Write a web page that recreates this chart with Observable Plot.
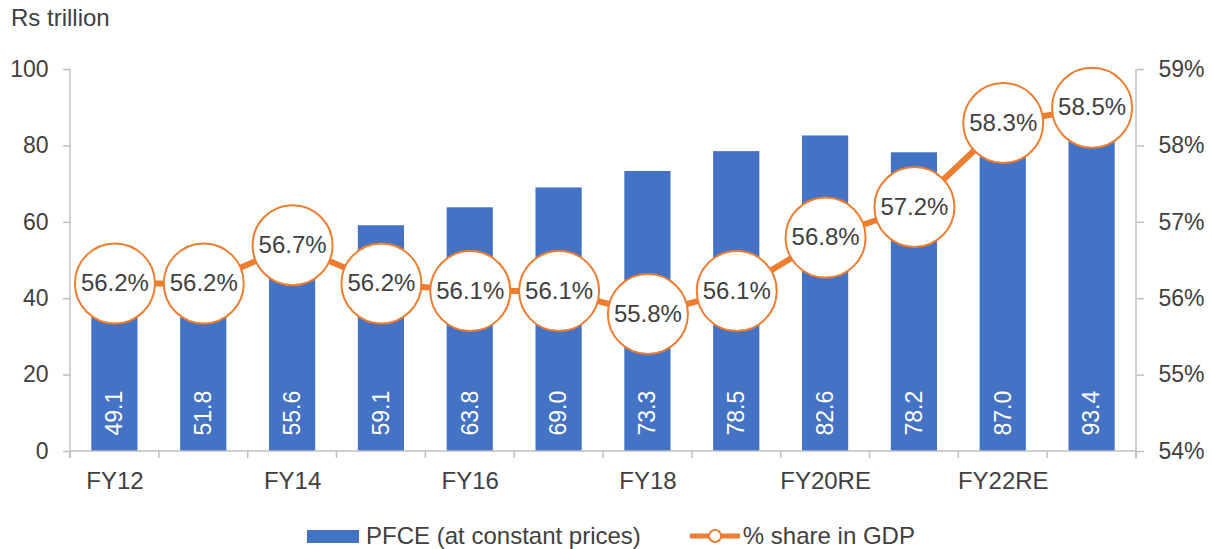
<!DOCTYPE html>
<html><head><meta charset="utf-8">
<script src="https://cdn.jsdelivr.net/npm/d3@7"></script>
<script src="https://cdn.jsdelivr.net/npm/@observablehq/plot@0.6"></script>
<style>
body{margin:0;background:#fff;font-family:"Liberation Sans",Arial,sans-serif;color:#404040;}
#title{height:40px;box-sizing:border-box;padding:6px 0 0 11px;font-size:24px;line-height:24px;}
#legend{height:49px;box-sizing:border-box;padding-top:23px;padding-left:10px;display:flex;justify-content:center;align-items:center;font-size:24px;line-height:24px;}
</style></head>
<body>
<div id="title"></div>
<div id="chart"></div>
<div id="legend"></div>
<script>
const unitLabel = "Rs trillion";
const years = ["FY12","FY13","FY14","FY15","FY16","FY17","FY18","FY19","FY20RE","FY21RE","FY22RE","FY23AE"];
const pfce = [49.1,51.8,55.6,59.1,63.8,69.0,73.3,78.5,82.6,78.2,87.0,93.4];
const share = [56.2,56.2,56.7,56.2,56.1,56.1,55.8,56.1,56.8,57.2,58.3,58.5];
const xTickLabels = ["FY12","FY14","FY16","FY18","FY20RE","FY22RE"];
const leftTicks = [0,20,40,60,80,100];
const rightTicks = [54,55,56,57,58,59];
const seriesNames = ["PFCE (at constant prices)","% share in GDP"];

const BLUE = "#4472C4", ORANGE = "#ED7D31", GRID = "#bfbfbf", TEXT = "#404040";
const FONT = "'Liberation Sans', Arial, sans-serif";

// map right-axis percent onto left-axis domain
const rMin = rightTicks[0], rMax = rightTicks[rightTicks.length-1];
const toLeft = p => (p - rMin) / (rMax - rMin) * 100;
const fromLeft = v => rMin + v / 100 * (rMax - rMin);

const data = years.map((year, i) => ({year, v: pfce[i], p: share[i], s: toLeft(share[i])}));

document.getElementById("title").textContent = unitLabel;

function frameLines(index, scales) {
  const {x, y} = scales;
  const step = x.step();
  const [r0, r1] = x.range();
  const y0 = y(0), yTop = y(100);
  const g = d3.create("svg:g").attr("stroke", GRID).attr("stroke-width", 1.5).attr("fill", "none");
  g.append("line").attr("x1", r0).attr("x2", r0).attr("y1", yTop).attr("y2", y0 + 7);
  g.append("line").attr("x1", r1).attr("x2", r1).attr("y1", yTop).attr("y2", y0 + 7);
  g.append("line").attr("x1", r0).attr("x2", r1).attr("y1", y0).attr("y2", y0);
  for (let i = 0; i <= years.length; i++) {
    const xx = r0 + i * step;
    g.append("line").attr("x1", xx).attr("x2", xx).attr("y1", y0).attr("y2", y0 + 7);
  }
  return g.node();
}

const chart = Plot.plot({
  width: 1212,
  height: 460,
  marginLeft: 70,
  marginRight: 76,
  marginTop: 29,
  marginBottom: 49,
  style: {fontFamily: FONT, fontSize: "23px", color: TEXT, background: "white", overflow: "visible"},
  x: {domain: years, paddingInner: 0.48, paddingOuter: 0.24, round: false, label: null},
  y: {domain: [0, 100], label: null},
  marks: [
    Plot.barY(data, {x: "year", y: "v", fill: BLUE}),
    Plot.text(data, {x: "year", y: 0, text: d => d.v.toFixed(1), rotate: -90, textAnchor: "start", dy: -16, fill: "white", fontSize: 23}),
    frameLines,
    Plot.axisY({ticks: leftTicks, tickSize: 7, tickPadding: 15, stroke: GRID, strokeWidth: 1.5, fill: TEXT, fontSize: 23, tickFormat: d => String(d), label: null}),
    Plot.axisY({anchor: "right", ticks: rightTicks.map(toLeft), tickSize: 7, tickPadding: 15, stroke: GRID, strokeWidth: 1.5, fill: TEXT, fontSize: 23, tickFormat: v => `${Math.round(fromLeft(v))}%`, label: null}),
    Plot.axisX({ticks: xTickLabels, tickSize: 0, tickPadding: 20, fill: TEXT, fontSize: 24, label: null}),
    Plot.line(data, {x: "year", y: "s", stroke: ORANGE, strokeWidth: 6}),
    Plot.dot(data, {x: "year", y: "s", r: 40, fill: "white", stroke: ORANGE, strokeWidth: 2}),
    Plot.text(data, {x: "year", y: "s", text: d => d.p.toFixed(1) + "%", fill: TEXT, fontSize: 24})
  ]
});
document.getElementById("chart").appendChild(chart);

const legend = document.getElementById("legend");
legend.innerHTML = `
  <span style="display:inline-block;width:52px;height:13px;background:${BLUE};margin-right:7px"></span>
  <span>${seriesNames[0]}</span>
  <svg width="50" height="16" style="margin-left:49px;margin-right:3px"><line x1="0" x2="50" y1="8" y2="8" stroke="${ORANGE}" stroke-width="5"/><circle cx="25" cy="8" r="6" fill="white" stroke="${ORANGE}" stroke-width="2"/></svg>
  <span>${seriesNames[1]}</span>`;
</script>
</body></html>
